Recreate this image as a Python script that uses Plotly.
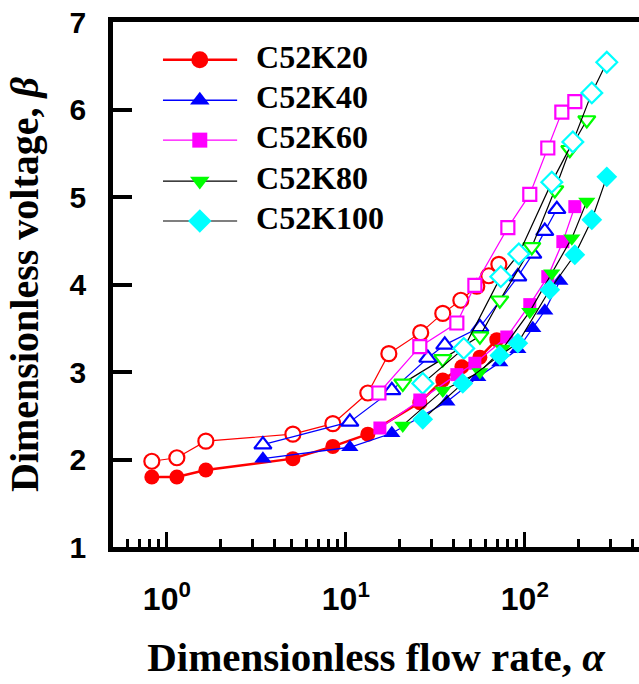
import plotly.graph_objects as go

# ---------------- data ----------------
series_names = ["C52K20", "C52K40", "C52K60", "C52K80", "C52K100"]

# C52K20
k20_filled_a = [0.824, 1.137, 1.651, 5.06, 8.46, 13.27, 25.9, 34.8, 44.5, 56.1, 69.7]
k20_filled_b = [1.80, 1.80, 1.88, 2.01, 2.15, 2.29, 2.65, 2.91, 3.06, 3.17, 3.37]
k20_hollow_a = [0.824, 1.137, 1.651, 5.06, 8.46, 13.27, 17.39, 26.2, 34.8, 43.9, 53.9, 62.9, 71.6]
k20_hollow_b = [1.98, 2.02, 2.21, 2.29, 2.41, 2.76, 3.21, 3.45, 3.67, 3.82, 3.98, 4.10, 4.23]

# C52K40
k40_filled_a = [3.44, 10.53, 18.07, 36.7, 54.6, 72.5, 91.4, 110.8, 129.3, 156.9]
k40_filled_b = [2.01, 2.14, 2.30, 2.66, 2.94, 3.11, 3.26, 3.50, 3.70, 4.04]
k40_hollow_a = [3.44, 10.53, 18.07, 28.7, 35.7, 56.1, 91.4, 110.8, 129.3, 151.0]
k40_hollow_b = [2.17, 2.43, 2.79, 3.16, 3.31, 3.51, 4.09, 4.35, 4.61, 4.86]

# C52K60
k60_filled_a = [15.5, 25.9, 41.7, 52.6, 79.3, 106.6, 134.4, 163.1, 190.3]
k60_filled_b = [2.36, 2.68, 2.97, 3.10, 3.40, 3.77, 4.09, 4.49, 4.89]
k60_hollow_a = [15.3, 25.9, 41.7, 52.6, 80.4, 106.6, 134.4, 161.0, 190.3]
k60_hollow_b = [2.76, 3.29, 3.56, 3.99, 4.65, 5.03, 5.56, 5.97, 6.09]

# C52K80
k80_filled_a = [20.8, 34.8, 56.1, 75.4, 106.6, 141.5, 183.1, 222.0]
k80_filled_b = [2.39, 2.79, 3.00, 3.27, 3.69, 4.13, 4.53, 4.95]
k80_hollow_a = [20.8, 34.8, 56.1, 72.5, 109.4, 147.1, 178.4, 222.0]
k80_hollow_b = [2.87, 3.15, 3.41, 3.82, 4.43, 5.08, 5.54, 5.88]

# C52K100
k100_filled_a = [26.9, 45.0, 72.5, 91.4, 137.9, 190.3, 236.8, 287.1]
k100_filled_b = [2.46, 2.87, 3.19, 3.33, 3.94, 4.34, 4.74, 5.23]
k100_hollow_a = [26.9, 45.6, 73.4, 92.6, 141.5, 185.5, 236.8, 287.1]
k100_hollow_b = [2.87, 3.27, 4.09, 4.35, 5.17, 5.63, 6.19, 6.54]

x_major_vals = [1, 10, 100]
x_major_text = ["10<sup>0</sup>", "10<sup>1</sup>", "10<sup>2</sup>"]
x_minor_vals = [0.6, 0.7, 0.8, 0.9, 2, 3, 4, 5, 6, 7, 8, 9,
                20, 30, 40, 50, 60, 70, 80, 90, 200, 300, 400]
y_tick_vals = [1, 2, 3, 4, 5, 6, 7]

# ---------------- styles ----------------
styles = [
    dict(name="C52K20", fa=k20_filled_a, fb=k20_filled_b, ha=k20_hollow_a, hb=k20_hollow_b,
         mcolor="#FF0000", lcolor="#FF0000", symbol="circle", size=15, lw=2.5, hlw=1.2),
    dict(name="C52K40", fa=k40_filled_a, fb=k40_filled_b, ha=k40_hollow_a, hb=k40_hollow_b,
         mcolor="#0000FF", lcolor="#0000FF", symbol="triangle-up", size=15, lw=1.3, hlw=1.2),
    dict(name="C52K60", fa=k60_filled_a, fb=k60_filled_b, ha=k60_hollow_a, hb=k60_hollow_b,
         mcolor="#FF00FF", lcolor="#FF00FF", symbol="square", size=13, lw=1.3, hlw=1.2),
    dict(name="C52K80", fa=k80_filled_a, fb=k80_filled_b, ha=k80_hollow_a, hb=k80_hollow_b,
         mcolor="#00FF00", lcolor="#000000", symbol="triangle-down", size=15, lw=1.2, hlw=1.2),
    dict(name="C52K100", fa=k100_filled_a, fb=k100_filled_b, ha=k100_hollow_a, hb=k100_hollow_b,
         mcolor="#00FFFF", lcolor="#000000", symbol="diamond", size=16, lw=1.2, hlw=1.2),
]

fig = go.Figure()

for s in styles:
    fig.add_trace(go.Scatter(
        x=s["ha"], y=s["hb"], mode="lines+markers", showlegend=False,
        line=dict(color=s["lcolor"], width=s["hlw"]),
        marker=dict(symbol=s["symbol"], size=s["size"], color="white",
                    line=dict(color=s["mcolor"], width=2.2))))
for s in styles:
    fig.add_trace(go.Scatter(
        x=s["fa"], y=s["fb"], mode="lines+markers", showlegend=False,
        line=dict(color=s["lcolor"], width=s["lw"]),
        marker=dict(symbol=s["symbol"], size=s["size"], color=s["mcolor"],
                    line=dict(width=0))))

# ---------------- custom legend on an overlay axis ----------------
LEG_LINE_X = [0.095, 0.236]
LEG_MARK_X = 0.165
LEG_TEXT_X = 0.272
LEG_ROWS_Y = [0.928, 0.851, 0.775, 0.697, 0.621]
for s, yy in zip(styles, LEG_ROWS_Y):
    fig.add_trace(go.Scatter(
        x=LEG_LINE_X, y=[yy, yy], xaxis="x2", yaxis="y2", mode="lines",
        showlegend=False, hoverinfo="skip",
        line=dict(color=s["lcolor"], width=s["lw"])))
    fig.add_trace(go.Scatter(
        x=[LEG_MARK_X], y=[yy], xaxis="x2", yaxis="y2", mode="markers",
        showlegend=False, hoverinfo="skip",
        marker=dict(symbol=s["symbol"], size=s["size"] + 2, color=s["mcolor"])))
    fig.add_trace(go.Scatter(
        x=[LEG_TEXT_X], y=[yy], xaxis="x2", yaxis="y2", mode="text",
        text=[s["name"]], textposition="middle right", showlegend=False,
        hoverinfo="skip",
        textfont=dict(family="Liberation Serif", size=32, color="black",
                      weight="bold")))

serif = "Liberation Serif"
sans = "Liberation Sans"

fig.update_layout(
    width=639, height=684,
    margin=dict(l=113, r=0, t=22, b=137),
    paper_bgcolor="white", plot_bgcolor="white",
    xaxis=dict(
        type="log", range=[-0.301, 2.638],
        showline=True, linecolor="black", linewidth=4.5, mirror=True,
        showgrid=False, zeroline=False,
        tickmode="array", tickvals=x_major_vals, ticktext=x_major_text,
        ticks="inside", ticklen=15, tickwidth=3, tickcolor="black",
        ticklabelstandoff=20,
        tickfont=dict(family=sans, size=32, color="black", weight="bold"),
        minor=dict(tickmode="array", tickvals=x_minor_vals, ticks="inside",
                   ticklen=8, tickwidth=2.5, tickcolor="black", showgrid=False),
        title=dict(text="Dimensionless flow rate, <i>α</i>", standoff=28,
                   font=dict(family=serif, size=41, color="black", weight="bold")),
        automargin=False,
    ),
    yaxis=dict(
        range=[1, 7],
        showline=True, linecolor="black", linewidth=4.5, mirror=False,
        showgrid=False, zeroline=False,
        tickmode="array", tickvals=y_tick_vals,
        ticks="inside", ticklen=19, tickwidth=3.5, tickcolor="black",
        ticklabelstandoff=16,
        tickfont=dict(family=sans, size=30, color="black", weight="bold"),
        title=dict(text="Dimensionless voltage, <i>β</i>", standoff=20,
                   font=dict(family=serif, size=40, color="black", weight="bold")),
        automargin=False,
    ),
    xaxis2=dict(overlaying="x", range=[0, 1], visible=False, fixedrange=True),
    yaxis2=dict(overlaying="y", range=[0, 1], visible=False, fixedrange=True),
)

fig.write_html("out.html")
